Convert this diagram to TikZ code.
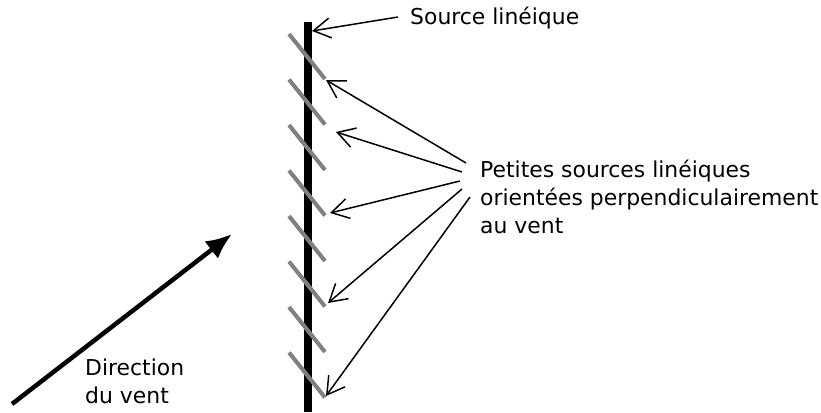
\documentclass[tikz,border=0pt]{standalone}
\usepackage{fontspec}
\setmainfont{DejaVu Sans}
\usetikzlibrary{arrows.meta}

\begin{document}
\begin{tikzpicture}[x=1pt,y=-1pt]
        \tikzstyle{every node}+=[inner sep=0pt, font=\fontsize{21.9}{28}\selectfont]
        \tikzstyle{pointer}=[black, line width=1.5pt, -{Straight Barb[length=17pt,width=20pt,line width=1.5pt]}]
        \tikzstyle{petite}=[gray, line width=4pt]
        \useasboundingbox (0,0) rectangle (821,412);
        % la source lineique
        \draw [black, line width=8pt] (308,22) -- (308,412);
        % les petites sources
        \foreach \i in {0,...,7}
          \draw [petite] (289,34+45.5*\i) -- (325,79+45.5*\i);
        \coordinate (s1) at (326,80);
        \coordinate (s2) at (336,132);
        \coordinate (s3) at (330,213);
        \coordinate (s4) at (328,303);
        \coordinate (s5) at (326,396);
        \coordinate (ligne) at (312,31);
        % textes
        \node [anchor=west] (source) at (410,18) {Source linéique};
        \node [anchor=west, align=left] (petites) at (480,197)
          {Petites sources linéiques\\orientées perpendiculairement\\au vent};
        \node [anchor=west, align=left] (direction) at (85,381) {Direction\\du vent};
        % fleches
        \draw [pointer] (source.west) ++(-12,-1) -- (ligne);
        \draw [pointer] (466,163) -- (s1);
        \draw [pointer] (462,172) -- (s2);
        \draw [pointer] (460,181) -- (s3);
        \draw [pointer] (462,189) -- (s4);
        \draw [pointer] (470,197) -- (s5);
        \coordinate (vent0) at (12,404);
        \coordinate (vent1) at (232,234);
        \draw [black, line width=4.5pt, -{Latex[length=26pt,width=22pt]}] (vent0) -- (vent1);
\end{tikzpicture}
\end{document}
